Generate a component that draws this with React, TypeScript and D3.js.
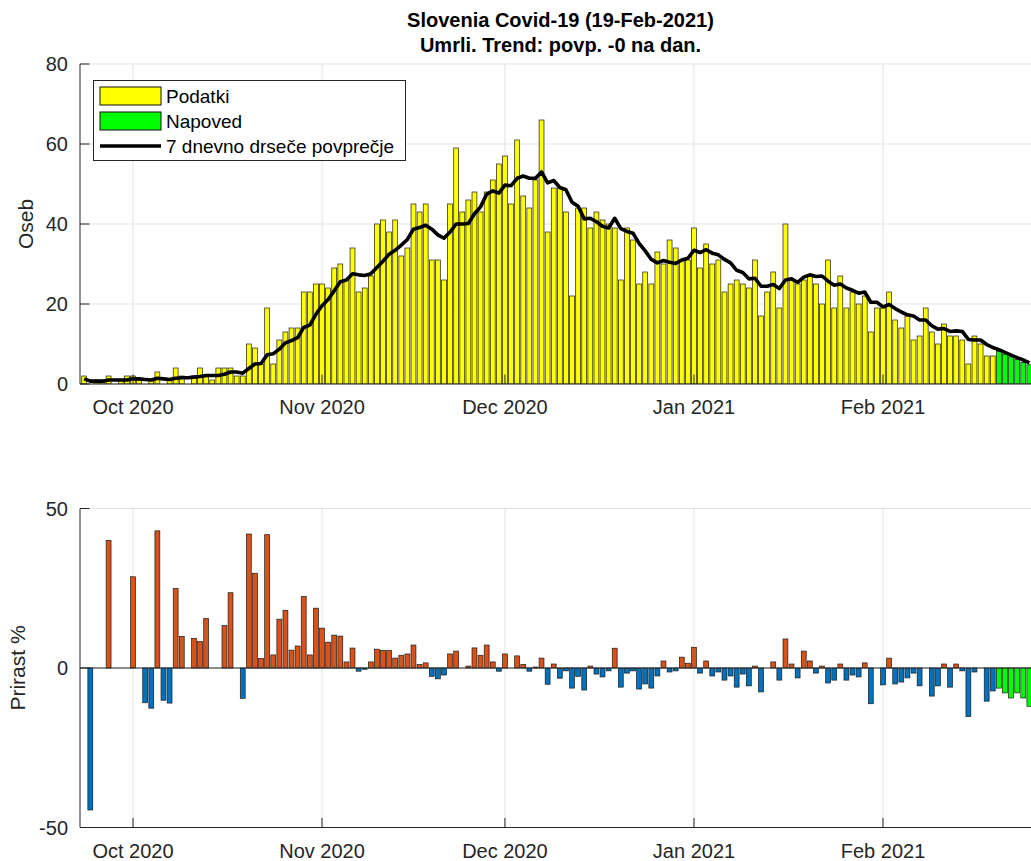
import React from 'react';
import * as d3 from 'd3';

// first date of the series (Sep 23, 2020), one value per day
const START_DATE = Date.UTC(2020, 8, 23);

// daily deaths ("Podatki"), Sep 23 2020 .. Feb 19 2021
const deaths = [
  2, 0, 1, 1, 2, 0, 1, 2, 2, 1,
  0, 1, 3, 0, 1, 4, 2, 0, 2, 4,
  2, 1, 4, 4, 4, 2, 2, 10, 9, 5,
  19, 5, 11, 13, 14, 14, 23, 23, 25, 25,
  24, 29, 30, 26, 34, 23, 24, 27, 40, 41,
  38, 41, 32, 34, 45, 43, 45, 31, 31, 26,
  45, 59, 43, 46, 48, 43, 48, 51, 55, 57,
  45, 61, 47, 44, 51, 66, 38, 49, 49, 43,
  22, 44, 44, 39, 43, 41, 40, 39, 26, 39,
  36, 25, 28, 25, 33, 30, 36, 34, 31, 31,
  39, 29, 35, 30, 31, 23, 25, 26, 25, 24,
  31, 17, 23, 28, 19, 40, 26, 25, 26, 27,
  25, 20, 31, 19, 27, 19, 23, 20, 22, 13,
  19, 19, 23, 16, 14, 17, 11, 12, 19, 13,
  10, 15, 12, 12, 11, 5, 12, 10, 7, 7,
];

// forecast ("Napoved"), Feb 20 .. Feb 25 2021
const forecast = [8.2, 7.5, 6.8, 6.1, 5.4, 4.8];

// 7-day moving average line, Sep 23 2020 .. Feb 25 2021
const movingAvg = [
  1.29, 0.71, 0.71, 0.71, 1.0, 1.0, 1.0, 1.0, 1.29, 1.29,
  1.14, 1.0, 1.43, 1.29, 1.14, 1.43, 1.57, 1.57, 1.71, 1.86,
  2.14, 2.14, 2.14, 2.43, 3.0, 3.0, 2.71, 3.86, 5.0, 5.14,
  7.29, 7.57, 8.71, 10.29, 10.86, 11.57, 14.14, 14.71, 17.43, 19.57,
  21.14, 23.29, 25.57, 26.0, 27.57, 27.29, 27.14, 27.57, 29.14, 30.71,
  32.43, 33.43, 34.71, 36.14, 38.71, 39.14, 39.71, 38.71, 37.29, 36.43,
  38.0, 40.0, 40.0, 40.14, 42.57, 44.29, 47.43, 48.29, 47.71, 49.71,
  49.57, 51.43, 52.0, 51.43, 51.43, 53.0, 50.29, 50.86, 49.14, 48.57,
  45.43, 44.43, 41.29, 41.43, 40.57, 39.43, 39.0, 41.43, 38.86, 38.14,
  37.71, 35.14, 33.29, 31.14, 30.29, 30.86, 30.43, 30.14, 31.0, 31.43,
  33.43, 32.86, 33.57, 32.71, 32.29, 31.14, 30.29, 28.43, 27.86, 26.29,
  26.43, 24.43, 24.43, 24.86, 23.86, 26.0, 26.29, 25.43, 26.71, 27.29,
  26.86, 27.0, 25.71, 24.71, 25.0, 24.0, 23.43, 22.71, 23.0, 20.43,
  20.43, 19.29, 19.86, 18.86, 18.0, 17.29, 17.0, 16.0, 16.0, 14.57,
  13.71, 13.86, 13.14, 13.29, 13.14, 11.14, 11.0, 11.0, 9.86, 9.14,
  8.6, 7.9, 7.2, 6.6, 6.0, 5.3,
];

// daily growth in % ("Prirast %"), Sep 23 2020 .. Feb 19 2021
const growth = [
  0, -44.5, 0, 0, 40, 0, 0, 0, 28.6, 0,
  -10.9, -12.6, 43, -10.1, -11, 24.9, 9.9, 0, 9.3, 8.3,
  15.5, 0, 0, 13.3, 23.6, 0, -9.5, 42, 29.7, 3,
  41.8, 4.1, 15.3, 18.1, 5.6, 6.9, 22.4, 4.1, 18.75, 12.5,
  8.1, 10.3, 10, 1.9, 6.25, -1, -0.4, 1.9, 5.9, 5.5,
  5.5, 3.1, 4, 4.4, 7.2, 1.1, 1.6, -2.6, -3.4, -2.2,
  4.4, 5.3, 0, 0.6, 6.3, 4, 7.2, 1.9, -1, 4.4,
  0, 3.8, 1.1, -1, 0.3, 3.1, -5.1, 1.25, -3.2, -0.9,
  -6.3, -2.6, -6.9, 0.6, -1.9, -2.8, -0.9, 6.2, -6, -1.6,
  -0.9, -6.6, -5, -6.3, -2.5, 2.2, -1.25, -0.9, 3.4, 1.5,
  6.5, -1.6, 2.2, -2.5, -1.25, -3.8, -2.5, -6, -1.9, -5.6,
  0.6, -7.5, 0, 1.9, -3.8, 9.1, 1.25, -3.1, 5.3, 2.2,
  -1.6, 0.6, -4.7, -3.8, 1.25, -3.8, -2.2, -2.8, 1.6, -11.2,
  0, -5.3, 3.1, -5, -4.4, -3.1, -1.6, -5.6, 0, -8.8,
  -5.6, 1.25, -6, 1.25, -0.9, -15.2, -1.25, 0, -10.4, -7.2,
];

// forecast growth in %, Feb 20 .. Feb 25 2021
const growthForecast = [-6.3, -7.8, -9.4, -7.8, -9.4, -12];

const monthTicks = ['2020-10-01', '2020-11-01', '2020-12-01', '2021-01-01', '2021-02-01'];
const topYTicks = [0, 20, 40, 60, 80];
const bottomYTicks = [-50, 0, 50];

const titleLines = ['Slovenia Covid-19 (19-Feb-2021)', 'Umrli. Trend: povp. -0 na dan.'];
const legendLabels = ['Podatki', 'Napoved', '7 dnevno drseče povprečje'];

const DAY = 86400000;
const FONT = '"Liberation Sans", Arial, Helvetica, sans-serif';
const AXIS = '#262626';
const GRID = '#e3e3e3';

export default function App() {
  const W = 1031, H = 861;
  const L = 80, R = 1031;
  const oct1 = Date.UTC(2020, 9, 1);
  const x = d3.scaleUtc()
    .domain([new Date(oct1 - 8.69 * DAY), new Date(oct1 + 147.27 * DAY)])
    .range([L, R]);
  const dayPx = x(new Date(oct1 + DAY)) - x(new Date(oct1));
  const bw = dayPx * 0.8;
  const dateAt = (i: number) => new Date(START_DATE + i * DAY);

  const yTop = d3.scaleLinear().domain([0, 80]).range([384, 64]);
  const yBot = d3.scaleLinear().domain([-50, 50]).range([827.5, 508.5]);

  const ticksX = monthTicks.map((s) => new Date(s + 'T00:00:00Z'));
  const fmt = d3.utcFormat('%b %Y');

  const line = d3.line<number>()
    .x((_, i) => x(dateAt(i)))
    .y((d) => yTop(d));

  const topBars = [
    ...deaths.map((v, i) => ({ i, v, fc: false })),
    ...forecast.map((v, j) => ({ i: deaths.length + j, v, fc: true })),
  ];
  const botBars = [
    ...growth.map((v, i) => ({ i, v, fc: false })),
    ...growthForecast.map((v, j) => ({ i: growth.length + j, v, fc: true })),
  ].filter((b) => b.v !== 0);

  const tickLen = 9.5;

  const axesFrame = (
    y: d3.ScaleLinear<number, number>,
    yTicks: number[],
    top: number,
    bottom: number,
    key: string,
  ) => (
    <g key={key}>
      {ticksX.map((t, k) => (
        <line key={'gx' + k} x1={x(t)} x2={x(t)} y1={top} y2={bottom} stroke={GRID} strokeWidth={1} />
      ))}
      {yTicks.map((t, k) => (
        <line key={'gy' + k} x1={L} x2={R} y1={y(t)} y2={y(t)} stroke={GRID} strokeWidth={1} />
      ))}
    </g>
  );

  const axesLines = (
    y: d3.ScaleLinear<number, number>,
    yTicks: number[],
    top: number,
    bottom: number,
    labelY: number,
    key: string,
  ) => (
    <g key={key} fontFamily={FONT} fill={AXIS}>
      <line x1={L} x2={R} y1={bottom} y2={bottom} stroke={AXIS} strokeWidth={1} />
      <line x1={L} x2={L} y1={top} y2={bottom} stroke={AXIS} strokeWidth={1} />
      {ticksX.map((t, k) => (
        <g key={'tx' + k}>
          <line x1={x(t)} x2={x(t)} y1={bottom} y2={bottom - tickLen} stroke={AXIS} strokeWidth={1} />
          <text x={x(t)} y={labelY} textAnchor="middle" fontSize={20}>{fmt(t)}</text>
        </g>
      ))}
      {yTicks.map((t, k) => (
        <g key={'ty' + k}>
          <line x1={L} x2={L + tickLen} y1={y(t)} y2={y(t)} stroke={AXIS} strokeWidth={1} />
          <text x={L - 12} y={y(t)} dy="0.35em" textAnchor="end" fontSize={20}>{t}</text>
        </g>
      ))}
    </g>
  );

  return (
    <svg width={W} height={H} style={{ position: 'absolute', left: 0, top: 0, background: '#fff' }}>
      <defs>
        <clipPath id="clipTop"><rect x={L} y={64} width={R - L} height={320} /></clipPath>
        <clipPath id="clipBot"><rect x={L} y={508.5} width={R - L} height={319} /></clipPath>
      </defs>
      <rect x={0} y={0} width={W} height={H} fill="#fff" />

      {/* title */}
      <g fontFamily={FONT} fontWeight="bold" fontSize={20} fill="#000" textAnchor="middle">
        <text x={(L + R) / 2 + 5} y={27}>{titleLines[0]}</text>
        <text x={(L + R) / 2 + 5} y={52}>{titleLines[1]}</text>
      </g>

      {/* top chart */}
      {axesFrame(yTop, topYTicks, 64, 384, 'ft')}
      <g clipPath="url(#clipTop)">
        {topBars.map((b) => (
          <rect
            key={'tb' + b.i}
            x={x(dateAt(b.i)) - bw / 2}
            y={yTop(b.v)}
            width={bw}
            height={yTop(0) - yTop(b.v)}
            fill={b.fc ? '#00ff00' : '#ffff00'}
            stroke="#1a1a1a"
            strokeWidth={0.7}
          />
        ))}
        <path d={line(movingAvg) || ''} fill="none" stroke="#000" strokeWidth={3.6} strokeLinejoin="round" />
      </g>
      {axesLines(yTop, topYTicks, 64, 384, 414, 'at')}
      <text
        transform="translate(33,224) rotate(-90)"
        textAnchor="middle"
        fontFamily={FONT}
        fontSize={21}
        fill={AXIS}
      >Oseb</text>

      {/* legend */}
      <g fontFamily={FONT} fontSize={19} fill="#000">
        <rect x={93.5} y={80.5} width={312} height={80} fill="#fff" stroke={AXIS} strokeWidth={1} />
        <rect x={100} y={87} width={61} height={18} fill="#ffff00" stroke="#111" strokeWidth={1} />
        <text x={166} y={103}>{legendLabels[0]}</text>
        <rect x={100} y={112} width={61} height={18} fill="#00ff00" stroke="#111" strokeWidth={1} />
        <text x={166} y={128}>{legendLabels[1]}</text>
        <line x1={100} x2={161} y1={146} y2={146} stroke="#000" strokeWidth={3.6} />
        <text x={166} y={153}>{legendLabels[2]}</text>
      </g>

      {/* bottom chart */}
      {axesFrame(yBot, bottomYTicks, 508.5, 827.5, 'fb')}
      <g clipPath="url(#clipBot)">
        {botBars.map((b) => {
          const y0 = yBot(0), y1 = yBot(b.v);
          return (
            <rect
              key={'bb' + b.i}
              x={x(dateAt(b.i)) - bw / 2}
              y={Math.min(y0, y1)}
              width={bw}
              height={Math.abs(y1 - y0)}
              fill={b.fc ? '#00ff00' : b.v > 0 ? '#d95319' : '#0072bd'}
              stroke="#1a1a1a"
              strokeWidth={0.7}
            />
          );
        })}
      </g>
      <line x1={L} x2={R} y1={yBot(0)} y2={yBot(0)} stroke={AXIS} strokeWidth={1} />
      {axesLines(yBot, bottomYTicks, 508.5, 827.5, 858, 'ab')}
      <text
        transform="translate(25,668) rotate(-90)"
        textAnchor="middle"
        fontFamily={FONT}
        fontSize={21}
        fill={AXIS}
      >Prirast %</text>
    </svg>
  );
}
